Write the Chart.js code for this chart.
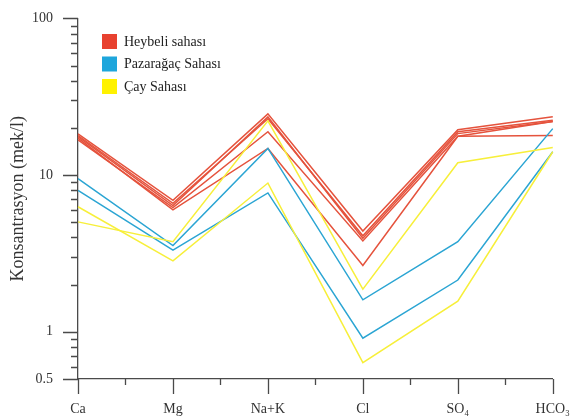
<!DOCTYPE html>
<html>
<head>
<meta charset="utf-8">
<script src="https://cdn.jsdelivr.net/npm/chart.js@4/dist/chart.umd.min.js"></script>
<style>
  html, body { margin: 0; padding: 0; background: #fff; }
  canvas { display: block; }
</style>
</head>
<body>
<canvas id="schoeller" width="577" height="418"></canvas>
<script>
// ions along the x axis
const categories = ['Ca', 'Mg', 'Na+K', 'Cl', 'SO₄', 'HCO₃'];

// Heybeli sahası (mek/l)
const heybeli1 = [18.3, 6.9, 24.6, 4.4, 19.5, 23.6];
const heybeli2 = [17.9, 6.6, 22.9, 4.1, 18.9, 22.4];
const heybeli3 = [17.6, 6.4, 23.5, 3.95, 18.4, 22.0];
const heybeli4 = [16.8, 6.2, 18.9, 3.8, 17.7, 17.9];
const heybeli5 = [17.2, 6.0, 14.8, 2.65, 17.7, 22.0];

// Pazarağaç Sahası
const pazaragac1 = [9.5, 3.55, 14.8, 1.6, 3.76, 19.8];
const pazaragac2 = [8.0, 3.32, 7.7, 0.91, 2.14, 14.1];

// Çay Sahası
const cay1 = [5.03, 3.76, 22.2, 1.87, 12.0, 15.0];
const cay2 = [6.28, 2.84, 8.9, 0.636, 1.57, 14.1];

const groupNames = ['Heybeli sahası', 'Pazarağaç Sahası', 'Çay Sahası'];

// log axis ticks
const yTicks = [0.5, 0.6, 0.7, 0.8, 0.9, 1, 2, 3, 4, 5, 6, 7, 8, 9, 10, 20, 30, 40, 50, 60, 70, 80, 90, 100];
const yLabelled = [0.5, 1, 10, 100];

const RED = '#e5533d';
const BLUE = '#2ba5d3';
const YELLOW = '#f7ef3a';
const legendColors = ['#e8412f', '#1ea6dc', '#fff200'];
const AXIS = '#4a4a4a';
const FONT = '"Liberation Serif", "Times New Roman", serif';

function line(label, data, color) {
    return {
        label: label,
        data: data,
        borderColor: color,
        borderWidth: 1.5,
        pointRadius: 0,
        fill: false,
        tension: 0
    };
}

// outward ticks, long for labelled ones, short for the rest
const axisTicks = {
    id: 'axisTicks',
    afterDraw(chart) {
        const { ctx, scales: { x, y } } = chart;
        ctx.save();
        ctx.strokeStyle = AXIS;
        ctx.lineWidth = 1.3;
        ctx.beginPath();
        yTicks.forEach(v => {
            const py = Math.round(y.getPixelForValue(v)) + 0.5;
            const len = yLabelled.includes(v) ? 15 : 7;
            ctx.moveTo(x.left - len, py);
            ctx.lineTo(x.left, py);
        });
        for (let i = 0; i < categories.length; i++) {
            const px = Math.round(x.getPixelForValue(i)) + 0.5;
            ctx.moveTo(px, y.bottom);
            ctx.lineTo(px, y.bottom + 15);
            if (i < categories.length - 1) {
                const mx = Math.round(x.getPixelForValue(i + 0.5)) + 0.5;
                ctx.moveTo(mx, y.bottom);
                ctx.lineTo(mx, y.bottom + 6);
            }
        }
        ctx.stroke();
        ctx.restore();
    }
};

const boxLegend = {
    id: 'boxLegend',
    afterDraw(chart) {
        const { ctx } = chart;
        ctx.save();
        ctx.font = '14px ' + FONT;
        ctx.textAlign = 'left';
        ctx.textBaseline = 'middle';
        groupNames.forEach((name, i) => {
            const top = 34 + i * 22.5;
            ctx.fillStyle = legendColors[i];
            ctx.fillRect(102, top, 15, 15);
            ctx.fillStyle = '#222';
            ctx.fillText(name, 124, top + 8);
        });
        ctx.restore();
    }
};

new Chart(document.getElementById('schoeller').getContext('2d'), {
    type: 'line',
    data: {
        labels: categories,
        datasets: [
            line(groupNames[2], cay1, YELLOW),
            line(groupNames[2], cay2, YELLOW),
            line(groupNames[1], pazaragac1, BLUE),
            line(groupNames[1], pazaragac2, BLUE),
            line(groupNames[0], heybeli1, RED),
            line(groupNames[0], heybeli2, RED),
            line(groupNames[0], heybeli3, RED),
            line(groupNames[0], heybeli4, RED),
            line(groupNames[0], heybeli5, RED)
        ]
    },
    options: {
        responsive: false,
        animation: false,
        devicePixelRatio: 1,
        layout: { padding: { top: 14, right: 22, left: 0, bottom: 0 } },
        plugins: {
            legend: { display: false },
            tooltip: { enabled: false }
        },
        scales: {
            x: {
                type: 'category',
                offset: false,
                grid: { display: true, drawOnChartArea: false, drawTicks: true, tickLength: 15, tickColor: 'rgba(0,0,0,0)' },
                border: { color: AXIS, width: 1.3 },
                ticks: { color: '#333', font: { family: FONT, size: 14 }, padding: 7, maxRotation: 0, autoSkip: false },
                afterFit(s) { s.height = 39; }
            },
            y: {
                type: 'logarithmic',
                min: 0.5,
                max: 100,
                afterBuildTicks(s) {
                    s.ticks = yTicks.map(v => ({ value: v }));
                },
                grid: { display: true, drawOnChartArea: false, drawTicks: true, tickLength: 15, tickColor: 'rgba(0,0,0,0)' },
                border: { color: AXIS, width: 1.3 },
                ticks: {
                    autoSkip: false,
                    color: '#333',
                    font: { family: FONT, size: 14 },
                    padding: 10,
                    callback: v => yLabelled.includes(v) ? String(v) : ''
                },
                title: {
                    display: true,
                    text: 'Konsantrasyon (mek/l)',
                    color: '#333',
                    font: { family: FONT, size: 18 },
                    padding: { top: 7, bottom: 0 }
                },
                afterFit(s) { s.width = 78; }
            }
        }
    },
    plugins: [axisTicks, boxLegend]
});
</script>
</body>
</html>
